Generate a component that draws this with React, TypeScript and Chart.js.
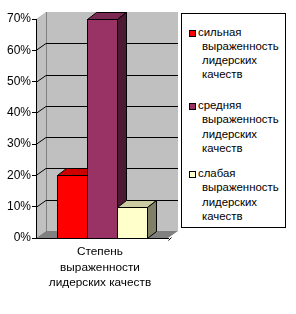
import React, { useEffect, useRef } from 'react';
import { Chart, registerables } from 'chart.js';

Chart.register(...registerables);

const categories = [['Степень', 'выраженности', 'лидерских качеств']];
const seriesLabels = [
  'сильная выраженность лидерских качеств',
  'средняя выраженность лидерских качеств',
  'слабая выраженность лидерских качеств',
];
const strongValues = [20];
const mediumValues = [70];
const weakValues = [10];
const seriesValues = [strongValues, mediumValues, weakValues];
const yMin = 0;
const yMax = 70;
const yStep = 10;

const frontColors = ['#FF0000', '#993366', '#FFFFCC'];
const topColors = ['#CC0000', '#7A2952', '#CCCCA3'];
const sideColors = ['#800000', '#4D1A33', '#808066'];

const WALL_DX = 10;
const WALL_DY = 7;
const BAR_DX = 9;
const BAR_DY = 7;
const FONT = '"Liberation Sans", Arial, sans-serif';

const wallsPlugin = {
  id: 'walls3d',
  beforeDraw(chart: any) {
    const { ctx, chartArea: a, scales } = chart;
    const ys = scales.y;
    const L = a.left, R = a.right, T = a.top, B = a.bottom;
    ctx.save();
    ctx.fillStyle = '#C0C0C0';
    ctx.beginPath();
    ctx.moveTo(L, T);
    ctx.lineTo(L + WALL_DX, T - WALL_DY);
    ctx.lineTo(L + WALL_DX, B - WALL_DY);
    ctx.lineTo(L, B);
    ctx.closePath();
    ctx.fill();
    ctx.fillRect(L + WALL_DX, T - WALL_DY, R - L, B - T);
    ctx.fillStyle = '#808080';
    ctx.beginPath();
    ctx.moveTo(L, B);
    ctx.lineTo(R, B);
    ctx.lineTo(R + WALL_DX, B - WALL_DY);
    ctx.lineTo(L + WALL_DX, B - WALL_DY);
    ctx.closePath();
    ctx.fill();
    ctx.lineWidth = 1;
    ctx.strokeStyle = '#808080';
    ctx.beginPath();
    ctx.moveTo(L + WALL_DX + 0.5, T - WALL_DY);
    ctx.lineTo(L + WALL_DX + 0.5, B - WALL_DY);
    ctx.stroke();
    ctx.strokeStyle = '#000000';
    ys.ticks.forEach((t: any) => {
      if (t.value <= ys.min || t.value >= ys.max) return;
      const py = Math.round(ys.getPixelForValue(t.value)) + 0.5;
      ctx.beginPath();
      ctx.moveTo(L, py);
      ctx.lineTo(L + WALL_DX, py - WALL_DY);
      ctx.lineTo(R + WALL_DX, py - WALL_DY);
      ctx.stroke();
    });
    ctx.beginPath();
    ctx.moveTo(R + 0.5, B + 2.5);
    ctx.lineTo(R + 3.5, B - 0.5);
    ctx.stroke();
    ctx.restore();
  },
  afterDatasetsDraw(chart: any) {
    const { ctx } = chart;
    ctx.save();
    ctx.lineWidth = 1;
    ctx.strokeStyle = '#000000';
    chart.data.datasets.forEach((_: any, i: number) => {
      const meta = chart.getDatasetMeta(i);
      meta.data.forEach((el: any) => {
        const { x, y, base, width } = el.getProps(['x', 'y', 'base', 'width'], true);
        const x0 = Math.round(x - width / 2) + 0.5;
        const x1 = Math.round(x + width / 2) + 0.5;
        const yt = Math.round(y) + 0.5;
        const yb = Math.round(base) + 0.5;
        ctx.fillStyle = frontColors[i];
        ctx.fillRect(x0, yt, x1 - x0, yb - yt);
        ctx.strokeRect(x0, yt, x1 - x0, yb - yt);
        ctx.fillStyle = topColors[i];
        ctx.beginPath();
        ctx.moveTo(x0, yt);
        ctx.lineTo(x1, yt);
        ctx.lineTo(x1 + BAR_DX, yt - BAR_DY);
        ctx.lineTo(x0 + BAR_DX, yt - BAR_DY);
        ctx.closePath();
        ctx.fill();
        ctx.stroke();
        ctx.fillStyle = sideColors[i];
        ctx.beginPath();
        ctx.moveTo(x1, yt);
        ctx.lineTo(x1 + BAR_DX, yt - BAR_DY);
        ctx.lineTo(x1 + BAR_DX, yb - BAR_DY);
        ctx.lineTo(x1, yb);
        ctx.closePath();
        ctx.fill();
        ctx.stroke();
      });
    });
    ctx.restore();
  },
};

const legendTops = [24.5, 98, 166];

export default function App() {
  const canvasRef = useRef<HTMLCanvasElement | null>(null);

  useEffect(() => {
    const canvas = canvasRef.current;
    if (!canvas) return;
    const chart = new Chart(canvas, {
      type: 'bar',
      data: {
        labels: categories as any,
        datasets: seriesLabels.map((label, i) => ({
          label,
          data: seriesValues[i],
          backgroundColor: frontColors[i],
          borderColor: '#000000',
          borderWidth: 1,
          categoryPercentage: 0.68,
          barPercentage: 1,
        })),
      },
      options: {
        responsive: false,
        maintainAspectRatio: false,
        animation: false,
        events: [],
        layout: { padding: { left: 0, top: 19, right: 128, bottom: 0 } },
        plugins: { legend: { display: false }, tooltip: { enabled: false } },
        scales: {
          x: {
            grid: { display: false, drawTicks: false },
            border: { display: true, color: '#000000', width: 1 },
            ticks: {
              color: '#000000',
              font: { family: FONT, size: 11.8, lineHeight: 1.32 },
              padding: 6,
              labelOffset: -2,
              maxRotation: 0,
              autoSkip: false,
            },
            afterFit: (s: any) => {
              s.height = 76;
            },
          },
          y: {
            min: yMin,
            max: yMax,
            ticks: {
              stepSize: yStep,
              callback: (v: any) => v + '%',
              color: '#000000',
              font: { family: FONT, size: 12 },
              padding: 1,
            },
            grid: { drawOnChartArea: false, color: '#000000', tickLength: 4 },
            border: { display: true, color: '#000000', width: 1 },
            afterFit: (s: any) => {
              s.width = 36;
            },
          },
        },
      },
      plugins: [wallsPlugin],
    });
    return () => chart.destroy();
  }, []);

  return (
    <div style={{ position: 'fixed', left: 0, top: 0, width: 296, height: 314, background: '#fff' }}>
      <canvas ref={canvasRef} width={296} height={314} style={{ position: 'absolute', left: 0, top: 0 }} />
      <div
        style={{
          position: 'absolute',
          left: 181,
          top: 13,
          width: 103,
          height: 213,
          border: '1px solid #000',
          background: '#fff',
        }}
      />
      {seriesLabels.map((label, i) => {
        const words = label.split(' ');
        const top = legendTops[i];
        return (
          <div key={i}>
            <div
              style={{
                position: 'absolute',
                left: 189,
                top: top + 5,
                width: 5,
                height: 5,
                border: '1px solid #000',
                background: frontColors[i],
              }}
            />
            <div
              style={{
                position: 'absolute',
                left: 198,
                top,
                font: `11.4px ${FONT}`,
                lineHeight: '14.3px',
                color: '#000',
                whiteSpace: 'nowrap',
              }}
            >
              {words.map((w, k) => (
                <div key={k} style={{ paddingLeft: k === 0 ? 0 : 4 }}>
                  {w}
                </div>
              ))}
            </div>
          </div>
        );
      })}
    </div>
  );
}
